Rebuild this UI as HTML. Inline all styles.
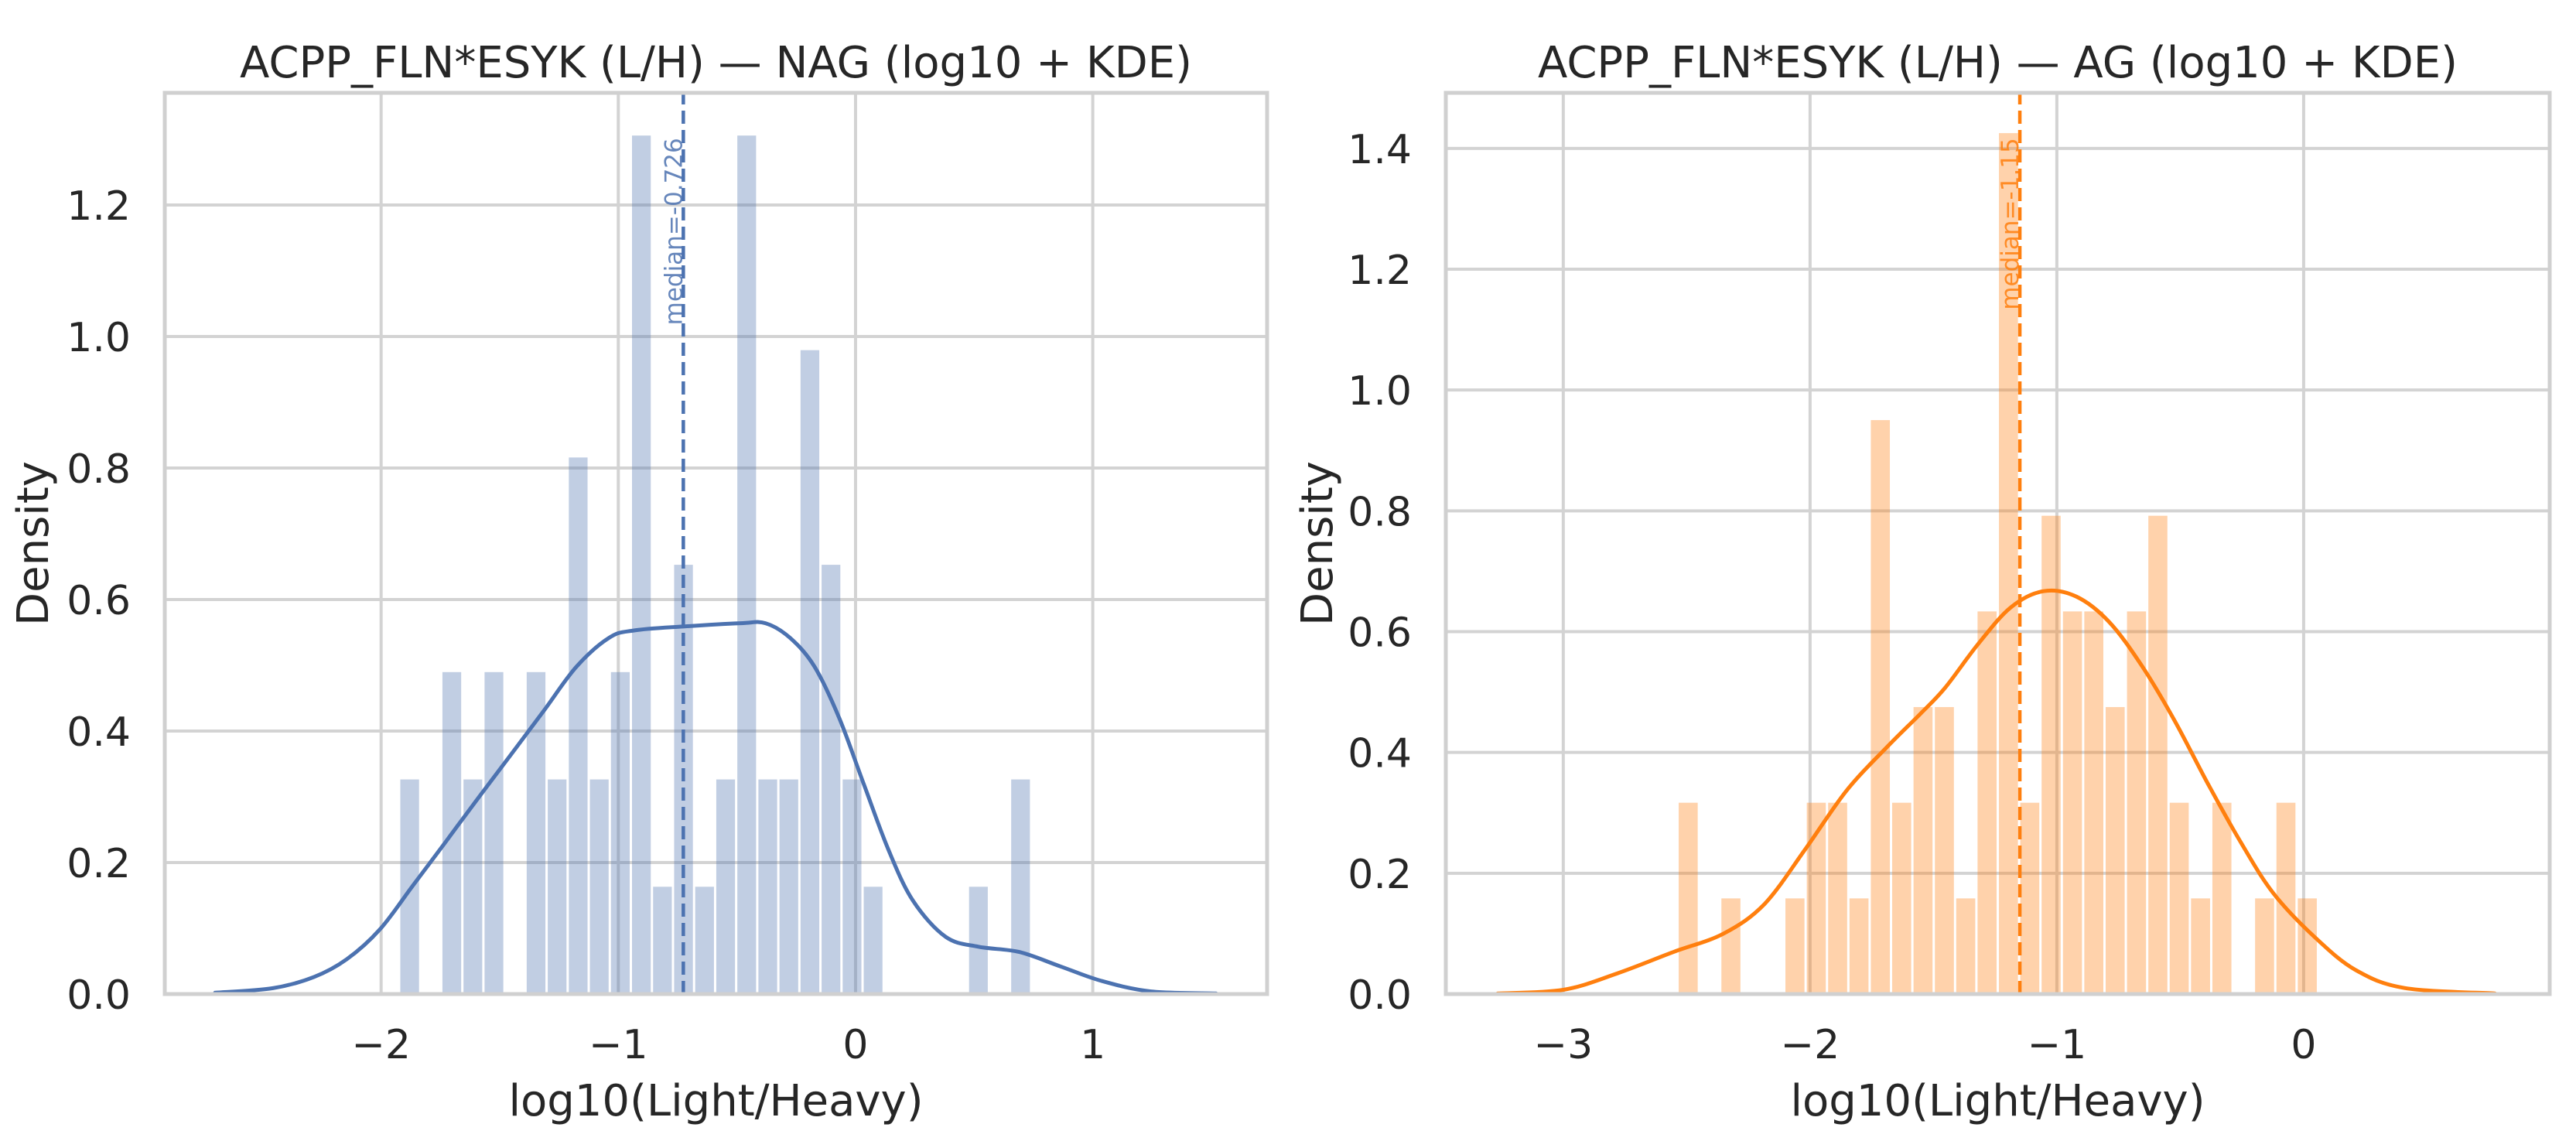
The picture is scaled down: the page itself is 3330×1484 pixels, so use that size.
<!DOCTYPE html>
<html><head><meta charset="utf-8"><style>
html,body{margin:0;padding:0;background:#fff}
svg{display:block}
text{font-family:"DejaVu Sans","Liberation Sans",sans-serif;fill:#262626}
</style></head><body>
<svg id="chart" width="3330" height="1484" viewBox="0 0 3330 1484" xmlns="http://www.w3.org/2000/svg"></svg>
<script>
// ---- NAG panel data ----
const nagBinStart = -1.924;
const nagBinWidth = 0.0888;
const nagCounts = [2,0,3,2,3,0,3,2,5,2,3,8,1,4,1,2,8,2,2,6,4,2,1,0,0,0,0,1,0,2];
const nagN = 69;
const nagKdeX = [-2.70,-2.456,-2.283,-2.145,-2.006,-1.868,-1.729,-1.591,-1.453,-1.314,-1.176,-1.038,-0.934,-0.727,-0.484,-0.38,-0.277,-0.173,-0.069,0.034,0.138,0.242,0.38,0.518,0.69,0.864,1.037,1.245,1.52];
const nagKdeY = [0.002,0.009,0.026,0.053,0.098,0.164,0.231,0.298,0.364,0.431,0.498,0.542,0.553,0.559,0.564,0.564,0.542,0.498,0.42,0.32,0.22,0.142,0.087,0.072,0.064,0.042,0.02,0.004,0.001];
const nagMedian = -0.726;
const nagXTicks = [-2,-1,0,1];
const nagYTicks = [0,0.2,0.4,0.6,0.8,1.0,1.2];

// ---- AG panel data ----
const agBinStart = -2.537;
const agBinWidth = 0.0865;
const agCounts = [2,0,1,0,0,1,2,2,1,6,2,3,3,1,4,9,2,5,4,4,3,4,5,2,1,2,0,1,2,1];
const agN = 73;
const agKdeX = [-3.266,-3.0,-2.783,-2.551,-2.351,-2.185,-2.019,-1.852,-1.686,-1.553,-1.453,-1.32,-1.187,-1.054,-0.921,-0.788,-0.655,-0.522,-0.389,-0.256,-0.123,0.043,0.21,0.409,0.775];
const agKdeY = [0.001,0.007,0.034,0.07,0.1,0.149,0.24,0.337,0.41,0.464,0.507,0.579,0.64,0.667,0.658,0.616,0.543,0.452,0.349,0.252,0.167,0.095,0.04,0.01,0.001];
const agMedian = -1.15;
const agXTicks = [-3,-2,-1,0];
const agYTicks = [0,0.2,0.4,0.6,0.8,1.0,1.2,1.4];

const NS = "http://www.w3.org/2000/svg";
const svg = document.getElementById('chart');
function mk(tag, attrs, parent){
  const e = document.createElementNS(NS, tag);
  for (const k in attrs) e.setAttribute(k, attrs[k]);
  (parent||svg).appendChild(e);
  return e;
}
function fmtTick(v, dec){
  const s = dec ? Math.abs(v).toFixed(dec) : String(Math.abs(v));
  return (v < 0 ? "\u2212" : "") + s;
}
function smoothPath(pts){
  let d = "M" + pts[0][0].toFixed(1) + "," + pts[0][1].toFixed(1);
  for (let i=0;i<pts.length-1;i++){
    const p0 = pts[Math.max(0,i-1)], p1 = pts[i], p2 = pts[i+1], p3 = pts[Math.min(pts.length-1,i+2)];
    const c1x = p1[0]+(p2[0]-p0[0])/6, c1y = p1[1]+(p2[1]-p0[1])/6;
    const c2x = p2[0]-(p3[0]-p1[0])/6, c2y = p2[1]-(p3[1]-p1[1])/6;
    d += " C"+c1x.toFixed(1)+","+c1y.toFixed(1)+" "+c2x.toFixed(1)+","+c2y.toFixed(1)+" "+p2[0].toFixed(1)+","+p2[1].toFixed(1);
  }
  return d;
}

function panel(cfg){
  const {key, left, right, top, bottom, xmin, xmax, ymax, color, barFill, title,
         binStart, binWidth, counts, n, kdeX, kdeY, median, xTicks, yTicks, ylabX} = cfg;
  const g = mk('g', {});
  
  
  const X = v => left + (v - xmin) / (xmax - xmin) * (right - left);
  const Y = v => bottom - v / ymax * (bottom - top);

  const grid = mk('g', {}, g);
  
  
  xTicks.forEach(t => {
    const l = mk('line', {x1:X(t), x2:X(t), y1:top, y2:bottom, stroke:'#d3d3d3', 'stroke-width':4}, grid);
    
    
  });
  yTicks.forEach(t => {
    const l = mk('line', {x1:left, x2:right, y1:Y(t), y2:Y(t), stroke:'#d3d3d3', 'stroke-width':4}, grid);
    
    
  });

  const bars = mk('g', {}, g);
  
  
  counts.forEach((c, i) => {
    if (c <= 0) return;
    const dens = c / (n * binWidth);
    const x0 = X(binStart + i * binWidth), x1 = X(binStart + (i + 1) * binWidth);
    const r = mk('rect', {x:x0+1.5, y:Y(dens), width:Math.max(0,x1-x0-3), height:bottom-Y(dens), fill:barFill}, bars);
    
    
  });

  const pts = kdeX.map((v, i) => [X(v), Y(kdeY[i])]);
  const kde = mk('path', {d:smoothPath(pts), fill:'none', stroke:color, 'stroke-width':5, 'stroke-linecap':'round'}, g);
  
  

  const ml = mk('line', {x1:X(median), x2:X(median), y1:bottom, y2:top, stroke:color, 'stroke-width':4.5, 'stroke-dasharray':'17,8'}, g);
  
  
  const ty = Y(0.95 * ymax);
  const mt = mk('text', {x:0, y:0, transform:'translate('+(X(median)-2)+','+ty+') rotate(-90)', 'text-anchor':'end', 'font-size':31, style:'fill:'+color+';opacity:0.85'}, g);
  mt.textContent = 'median=' + median.toFixed(3).replace(/0+$/,'').replace(/\.$/,'');
  
  

  const fr = mk('rect', {x:left, y:top, width:right-left, height:bottom-top, fill:'none', stroke:'#d0d0d0', 'stroke-width':5}, g);
  
  

  xTicks.forEach(t => {
    const tx = mk('text', {x:X(t), y:1368, 'text-anchor':'middle', 'font-size':52}, g);
    tx.textContent = fmtTick(t, 0);
    
    
  });
  yTicks.forEach(t => {
    const tx = mk('text', {x:left-44, y:Y(t)+19, 'text-anchor':'end', 'font-size':52}, g);
    tx.textContent = fmtTick(t, 1);
    
    
  });

  const xl = mk('text', {x:(left+right)/2, y:1442, 'text-anchor':'middle', 'font-size':56}, g);
  xl.textContent = 'log10(Light/Heavy)';
  
  
  const yl = mk('text', {x:0, y:0, transform:'translate('+ylabX+','+((top+bottom)/2)+') rotate(-90)', 'text-anchor':'middle', 'font-size':56}, g);
  yl.textContent = 'Density';
  
  
  const tt = mk('text', {x:(left+right)/2, y:100, 'text-anchor':'middle', 'font-size':56}, g);
  tt.textContent = title;
  
  
}

panel({key:'nag', left:213, right:1638, top:120, bottom:1285, xmin:-2.912, xmax:1.735, ymax:1.3706,
  color:'#4c72b0', barFill:'rgba(76,114,176,0.35)', title:'ACPP_FLN*ESYK (L/H) \u2014 NAG (log10 + KDE)',
  binStart:nagBinStart, binWidth:nagBinWidth, counts:nagCounts, n:nagN, kdeX:nagKdeX, kdeY:nagKdeY,
  median:nagMedian, xTicks:nagXTicks, yTicks:nagYTicks, ylabX:62});
panel({key:'ag', left:1869, right:3296, top:120, bottom:1285, xmin:-3.476, xmax:0.997, ymax:1.492,
  color:'#ff7f0e', barFill:'rgba(255,127,14,0.35)', title:'ACPP_FLN*ESYK (L/H) \u2014 AG (log10 + KDE)',
  binStart:agBinStart, binWidth:agBinWidth, counts:agCounts, n:agN, kdeX:agKdeX, kdeY:agKdeY,
  median:agMedian, xTicks:agXTicks, yTicks:agYTicks, ylabX:1722});
</script>
</body></html>
